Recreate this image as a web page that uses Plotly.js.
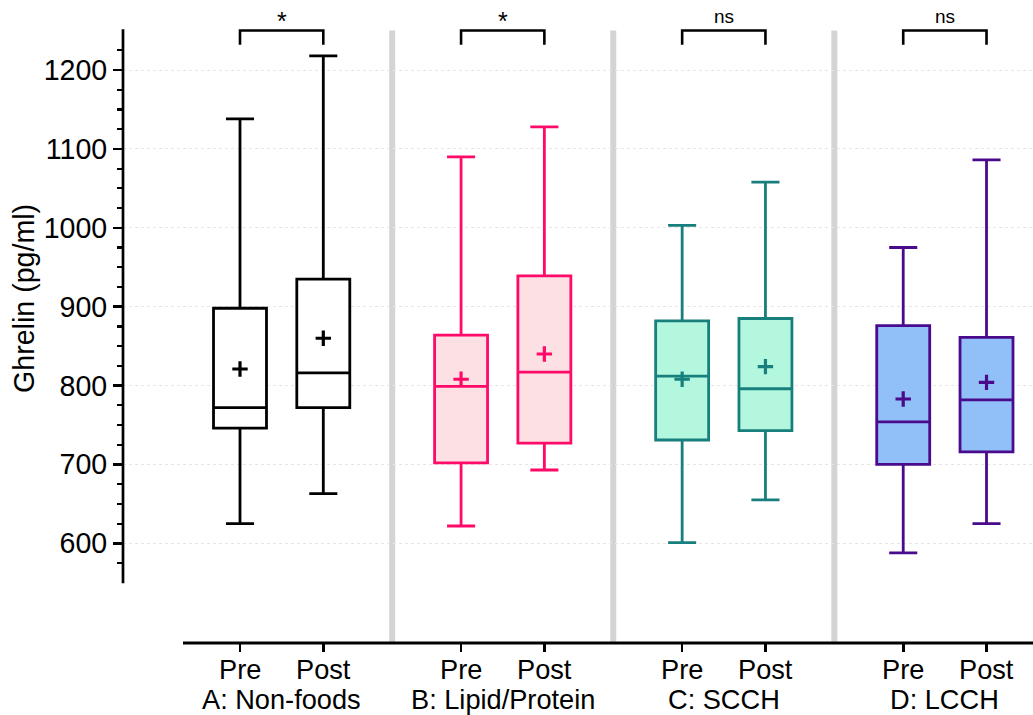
<!DOCTYPE html>
<html>
<head>
<meta charset="utf-8">
<script src="https://cdn.plot.ly/plotly-3.0.1.min.js"></script>
<style>html,body{margin:0;padding:0;background:#fff;}#chart{width:1033px;height:715px;}</style>
</head>
<body>
<div id="chart"></div>
<script>
// ---- data ----
const groupLabels = ["A: Non-foods", "B: Lipid/Protein", "C: SCCH", "D: LCCH"];
const conditions = ["Pre", "Post"];
// order: A Pre, A Post, B Pre, B Post, C Pre, C Post, D Pre, D Post
const lowerWhisker = [625, 663, 622, 693, 601, 655, 588, 625];
const q1Vals      = [746, 772, 702, 727, 731, 743, 700, 716];
const medianVals  = [772, 816, 799, 817, 812, 796, 754, 782];
const q3Vals      = [898, 935, 864, 939, 882, 885, 876, 861];
const upperWhisker= [1138, 1218, 1090, 1128, 1003, 1058, 975, 1086];
const meanVals    = [821, 860, 808, 840, 808, 824, 783, 804];
const significance = ["*", "*", "ns", "ns"];
const yTickVals = [600, 700, 800, 900, 1000, 1100, 1200];

// ---- styles ----
const lineColors = ["#000000", "#ff0a68", "#177f7c", "#4a0a8c"];
const fillColors = ["#ffffff", "#fde0e4", "#b4f7df", "#91bff8"];
const groupStep = 2.654;
const FONT = "Arial, 'Liberation Sans', sans-serif";
const FS = 28.6;
const FSX = 27.2;

const traces = [];
const tickvals = [];
const shapes = [];
const annotations = [];

groupLabels.forEach((g, gi) => {
  const gx = gi * groupStep;
  const xs = [gx, gx + 1];
  const idx = [gi * 2, gi * 2 + 1];
  traces.push({
    type: "box",
    x: xs,
    q1: idx.map(i => q1Vals[i]),
    median: idx.map(i => medianVals[i]),
    q3: idx.map(i => q3Vals[i]),
    lowerfence: idx.map(i => lowerWhisker[i]),
    upperfence: idx.map(i => upperWhisker[i]),
    width: 0.636,
    whiskerwidth: 0.53,
    fillcolor: fillColors[gi],
    line: { color: lineColors[gi], width: 2.8 },
    boxpoints: false,
    hoverinfo: "skip",
    showlegend: false
  });
  traces.push({
    type: "scatter",
    mode: "markers",
    x: xs,
    y: idx.map(i => meanVals[i]),
    marker: { symbol: "cross-thin", size: 11, color: lineColors[gi], line: { color: lineColors[gi], width: 3.2 } },
    hoverinfo: "skip",
    showlegend: false,
    cliponaxis: false
  });
  xs.forEach((x, k) => {
    tickvals.push(x);
    annotations.push({
      x: x, xref: "x", y: -0.0418, yref: "paper", yanchor: "middle", borderpad: 0,
      text: conditions[k], showarrow: false, font: { family: FONT, size: FSX, color: "#000" }
    });
  });

  // group label
  annotations.push({
    x: gx + 0.5, xref: "x", y: -0.0893, yref: "paper", yanchor: "middle", borderpad: 0,
    text: g, showarrow: false, font: { family: FONT, size: FSX, color: "#000" }
  });
  // significance bracket
  shapes.push({
    type: "path", xref: "x", yref: "y",
    path: `M ${gx} 1232 L ${gx} 1250 L ${gx + 1} 1250 L ${gx + 1} 1232`,
    line: { color: "#000", width: 2.6 }
  });
  const isStar = significance[gi] === "*";
  annotations.push({
    x: gx + 0.5, xref: "x", y: isStar ? 1262 : 1268, yref: "y", yanchor: "middle",
    text: significance[gi], showarrow: false,
    font: { family: FONT, size: isStar ? 25 : 19, color: "#000" }
  });
  // separator
  if (gi < groupLabels.length - 1) {
    const sx = gx + 1 + (groupStep - 1) / 2;
    shapes.push({
      type: "line", xref: "x", yref: "y", x0: sx, x1: sx, y0: 473.7, y1: 1250,
      line: { color: "#d4d4d4", width: 6 }, layer: "below"
    });
  }
});

// y axis spine
shapes.push({ type: "line", xref: "paper", yref: "y", x0: 0, x1: 0, y0: 549.3, y1: 1251.6, line: { color: "#000", width: 2.7 } });
// x axis line
shapes.push({ type: "line", xref: "paper", yref: "paper", x0: 60 / 910, x1: 1, y0: 0, y1: 0, line: { color: "#000", width: 3 } });

// y title
annotations.push({
  x: -0.1088, xref: "paper", y: 0.5408, yref: "paper", xanchor: "center", yanchor: "middle",
  text: "Ghrelin (pg/ml)", textangle: -90, showarrow: false,
  font: { family: FONT, size: FS, color: "#000" }
});

const minorVals = [];
for (let v = 575; v <= 1225; v += 25) if (v % 100 !== 0) minorVals.push(v);

const layout = {
  width: 1033, height: 715,
  margin: { l: 123, r: 0, t: 5, b: 72, pad: 0 },
  paper_bgcolor: "#fff", plot_bgcolor: "#fff",
  font: { family: FONT, size: FS, color: "#000" },
  xaxis: {
    range: [-1.4046, 9.52], showgrid: false, zeroline: false, showline: false,
    tickmode: "array", tickvals: tickvals, showticklabels: false,
    ticks: "outside", ticklen: 8, tickwidth: 2.6, tickcolor: "#000",
    fixedrange: true
  },
  yaxis: {
    range: [473.7, 1282.4], zeroline: false, showline: false,
    tickmode: "array", tickvals: yTickVals,
    ticks: "outside", ticklen: 9, tickwidth: 2.4, tickcolor: "#000",
    tickfont: { family: FONT, size: FS, color: "#000" },
    showgrid: true, gridcolor: "#e6e6e6", griddash: "dot", gridwidth: 1,
    minor: { tickmode: "array", tickvals: minorVals, ticks: "outside", ticklen: 5, tickwidth: 2.2, tickcolor: "#000", showgrid: false },
    fixedrange: true
  },
  shapes: shapes,
  annotations: annotations,
  showlegend: false
};

Plotly.newPlot("chart", traces, layout, { displayModeBar: false, staticPlot: true });
</script>
</body>
</html>
